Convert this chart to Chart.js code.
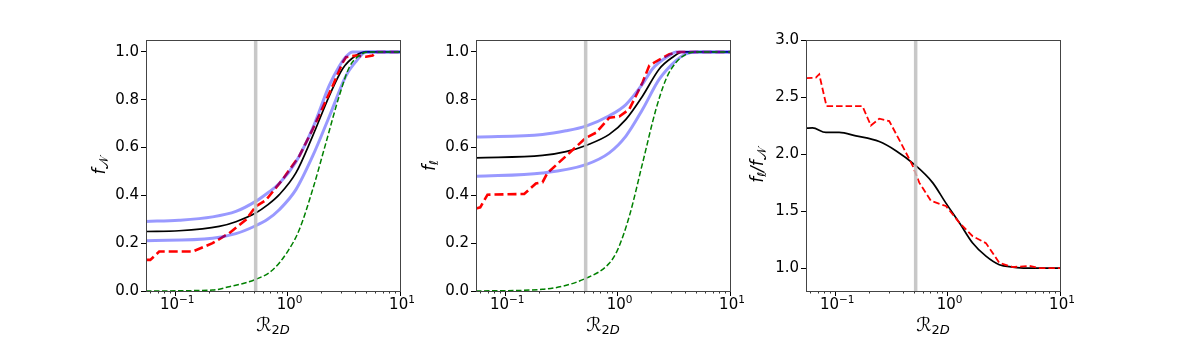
<!DOCTYPE html>
<html>
<head>
<meta charset="utf-8">
<script src="https://cdn.jsdelivr.net/npm/chart.js@4.4.1/dist/chart.umd.min.js"></script>
<style>
  body { margin: 0; background: #fff; width: 1177px; height: 343px; overflow: hidden; position: relative; }
  canvas { position: absolute; top: 0; }
</style>
</head>
<body>
<canvas id="chart1" width="340" height="343" style="left:76px"></canvas>
<canvas id="chart2" width="340" height="343" style="left:406px"></canvas>
<canvas id="chart3" width="340" height="343" style="left:736px"></canvas>
<script>
// x ticks (log scale) and the vertical marker
const xMajor = [0.1, 1, 10];
const xMajorExp = ['\u22121', '0', '1'];
const xMin = 0.055, xMax = 10;
const vlineX = 0.52;

// ---- panel 1 : f_N ----
const hi1_x = [0.055, 0.108, 0.215, 0.347, 0.52, 0.664, 0.843, 1.186, 1.67, 2.35, 2.88, 3.3, 3.79, 10];
const hi1_y = [0.291, 0.296, 0.31, 0.333, 0.375, 0.41, 0.45, 0.54, 0.68, 0.86, 0.94, 0.98, 1.0, 1.0];
const lo1_x = [0.055, 0.215, 0.347, 0.52, 0.664, 0.843, 1.186, 1.67, 2.35, 3.306, 4.058, 4.98, 10];
const lo1_y = [0.21, 0.221, 0.24, 0.273, 0.30, 0.34, 0.424, 0.564, 0.73, 0.90, 0.96, 1.0, 1.0];
const blk1_x = [0.055, 0.108, 0.246, 0.347, 0.52, 0.664, 0.843, 1.186, 1.67, 2.35, 3.088, 4.058, 4.98, 10];
const blk1_y = [0.249, 0.252, 0.27, 0.29, 0.326, 0.36, 0.403, 0.494, 0.648, 0.816, 0.93, 0.985, 1.0, 1.0];
const red1_x = [0.055, 0.06, 0.0721, 0.1427, 0.215, 0.3025, 0.4256, 0.5225, 0.6413, 0.9, 1.27, 1.67, 2.516, 3.088, 3.306, 4.058, 4.98, 5.71, 6.11, 10];
const red1_y = [0.13, 0.13, 0.165, 0.165, 0.20, 0.242, 0.298, 0.354, 0.38, 0.466, 0.564, 0.676, 0.858, 0.956, 0.978, 0.985, 0.98, 0.985, 1.0, 1.0];
const grn1_x = [0.055, 0.215, 0.3025, 0.5225, 0.7355, 1.0, 1.27, 1.67, 2.194, 2.884, 3.54, 4.345, 5.33, 10];
const grn1_y = [0.0, 0.004, 0.018, 0.049, 0.088, 0.165, 0.256, 0.424, 0.62, 0.817, 0.936, 0.985, 1.0, 1.0];

// ---- panel 2 : f_l ----
const hi2_x = [0.055, 0.215, 0.347, 0.5225, 0.843, 1.186, 1.67, 2.049, 2.884, 3.306, 10];
const hi2_y = [0.644, 0.655, 0.67, 0.69, 0.733, 0.78, 0.866, 0.93, 0.985, 1.0, 1.0];
const lo2_x = [0.055, 0.215, 0.5225, 0.843, 1.186, 1.67, 2.349, 3.306, 4.058, 4.98, 10];
const lo2_y = [0.48, 0.494, 0.529, 0.578, 0.648, 0.76, 0.886, 0.964, 0.992, 1.0, 1.0];
const blk2_x = [0.055, 0.215, 0.347, 0.5225, 0.843, 1.186, 1.67, 2.349, 3.088, 3.79, 10];
const blk2_y = [0.557, 0.567, 0.583, 0.609, 0.655, 0.718, 0.816, 0.929, 0.978, 1.0, 1.0];
const red2_x = [0.055, 0.06, 0.0696, 0.1476, 0.1875, 0.215, 0.238, 0.3467, 0.5225, 0.6413, 0.843, 1.035, 1.27, 1.67, 1.914, 2.194, 2.884, 3.54, 10];
const red2_y = [0.345, 0.35, 0.403, 0.406, 0.45, 0.455, 0.494, 0.564, 0.641, 0.662, 0.725, 0.73, 0.76, 0.873, 0.943, 0.96, 0.99, 1.0, 1.0];
const grn2_x = [0.055, 0.215, 0.5225, 0.843, 1.0, 1.27, 1.67, 2.194, 2.694, 3.306, 4.058, 4.98, 10];
const grn2_y = [0.0, 0.007, 0.053, 0.116, 0.172, 0.312, 0.536, 0.76, 0.886, 0.956, 0.99, 1.0, 1.0];

// ---- panel 3 : f_l / f_N ----
const blk3_x = [0.055, 0.0628, 0.0826, 0.1085, 0.1528, 0.2464, 0.3467, 0.505, 0.7355, 0.9665, 1.27, 1.67, 2.194, 2.884, 3.79, 4.98, 10];
const blk3_y = [2.227, 2.23, 2.19, 2.19, 2.16, 2.11, 2.03, 1.91, 1.75, 1.57, 1.40, 1.22, 1.105, 1.03, 1.01, 1.0, 1.0];
const red3_x = [0.055, 0.0673, 0.0721, 0.0837, 0.175, 0.2077, 0.2464, 0.3025, 0.3975, 0.4881, 0.5597, 0.7107, 0.9665, 1.27, 1.67, 2.194, 2.884, 3.79, 5.33, 6.55, 10];
const red3_y = [2.666, 2.67, 2.70, 2.42, 2.42, 2.25, 2.31, 2.29, 2.07, 1.90, 1.75, 1.59, 1.545, 1.40, 1.28, 1.22, 1.047, 1.01, 1.02, 1.0, 1.0];

const yTicks12 = [0, 0.2, 0.4, 0.6, 0.8, 1.0];
const yTicks3 = [1.0, 1.5, 2.0, 2.5, 3.0];

function pts(xs, ys) {
    return xs.map((x, i) => ({ x: x, y: ys[i] }));
}

const tickFont = { family: 'DejaVu Sans', size: 15 };

// frame, minor ticks, 10^n labels and math-style axis titles
const decorPlugin = {
    id: 'decor',
    afterDraw(chart, args, opts) {
        const ctx = chart.ctx;
        const a = chart.chartArea;
        const xs = chart.scales.x;
        ctx.save();
        ctx.strokeStyle = '#000';
        ctx.lineWidth = 0.8;
        ctx.beginPath();
        for (let d = 0.01; d < 10; d *= 10) {
            for (let m = 2; m <= 9; m++) {
                const v = d * m;
                if (v < xMin || v > xMax) continue;
                const px = Math.round(xs.getPixelForValue(v)) + 0.5;
                ctx.moveTo(px, a.bottom);
                ctx.lineTo(px, a.bottom + 2.5);
            }
        }
        ctx.stroke();
        ctx.strokeStyle = '#444';
        ctx.lineWidth = 1;
        ctx.strokeRect(Math.round(a.left) + 0.5, Math.round(a.top) + 0.5, Math.round(a.right - a.left), Math.round(a.bottom - a.top));

        ctx.fillStyle = '#000';
        ctx.textAlign = 'left';
        ctx.textBaseline = 'alphabetic';
        xMajor.forEach((v, i) => {
            drawParts(ctx, [
                { t: '10', font: '15px DejaVu Sans' },
                { t: xMajorExp[i], font: '10.5px DejaVu Sans', dy: -6 }
            ], xs.getPixelForValue(v) + 2, a.bottom + 18);
        });
        drawParts(ctx, opts.xTitle, (a.left + a.right) / 2, 331);
        ctx.translate(a.left - opts.yOffset, (a.top + a.bottom) / 2);
        ctx.rotate(-Math.PI / 2);
        drawParts(ctx, opts.yTitle, 0, 0);
        ctx.restore();
    }
};

function drawParts(ctx, parts, cx, cy) {
    let total = 0;
    parts.forEach(p => { ctx.font = p.font; p.w = ctx.measureText(p.t).width; total += p.w; });
    let x = cx - total / 2;
    parts.forEach(p => { ctx.font = p.font; ctx.fillText(p.t, x, cy + (p.dy || 0)); x += p.w; });
}

const xTitle = [
    { t: '\u211B', font: 'italic 19px DejaVu Sans' },
    { t: '2', font: '13px DejaVu Sans', dy: 3 },
    { t: 'D', font: 'italic 13px DejaVu Sans', dy: 3 }
];

function makeChart(id, datasets, yMin, yMax, yTicks, yTitle, yOffset) {
    return new Chart(document.getElementById(id), {
        type: 'line',
        data: { datasets: datasets },
        options: {
            responsive: false,
            animation: false,
            layout: { padding: { top: 40, right: 16, left: 0, bottom: 0 } },
            plugins: {
                legend: { display: false },
                tooltip: { enabled: false },
                decor: { xTitle: xTitle, yTitle: yTitle, yOffset: yOffset }
            },
            elements: { point: { radius: 0 } },
            scales: {
                x: {
                    type: 'logarithmic',
                    min: xMin,
                    max: xMax,
                    afterBuildTicks: s => { s.ticks = xMajor.map(v => ({ value: v })); },
                    afterFit: s => { s.height = 52; },
                    ticks: {
                        font: tickFont,
                        color: '#000',
                        padding: 2,
                        maxRotation: 0,
                        autoSkip: false,
                        callback: () => ''
                    },
                    grid: { drawOnChartArea: false, tickLength: 5, tickColor: '#000', tickWidth: 1 },
                    border: { display: false }
                },
                y: {
                    type: 'linear',
                    min: yMin,
                    max: yMax,
                    afterBuildTicks: s => { s.ticks = yTicks.map(v => ({ value: v })); },
                    afterFit: s => { s.width = 70; },
                    ticks: {
                        font: tickFont,
                        color: '#000',
                        padding: 2,
                        callback: v => v.toFixed(1)
                    },
                    grid: { drawOnChartArea: false, tickLength: 5, tickColor: '#000', tickWidth: 1 },
                    border: { display: false }
                }
            }
        },
        plugins: [decorPlugin]
    });
}

function vline(yMin, yMax) {
    return { data: pts([vlineX, vlineX], [yMin, yMax]), borderColor: 'rgba(190,190,190,0.85)', borderWidth: 3.5, tension: 0 };
}
function band(xs, ys) {
    return { data: pts(xs, ys), borderColor: 'rgba(0,0,255,0.4)', borderWidth: 3, cubicInterpolationMode: 'monotone' };
}
function black(xs, ys) {
    return { data: pts(xs, ys), borderColor: '#000', borderWidth: 1.7, cubicInterpolationMode: 'monotone' };
}
function red(xs, ys, w, dash) {
    return { data: pts(xs, ys), borderColor: '#ff0000', borderWidth: w, borderDash: dash, tension: 0 };
}
function green(xs, ys) {
    return { data: pts(xs, ys), borderColor: '#008000', borderWidth: 1.5, borderDash: [5.5, 2.5], cubicInterpolationMode: 'monotone' };
}

// first dataset is drawn on top
makeChart('chart1', [
    vline(0, 1.05),
    green(grn1_x, grn1_y),
    band(hi1_x, hi1_y),
    band(lo1_x, lo1_y),
    red(red1_x, red1_y, 2.6, [9, 4]),
    black(blk1_x, blk1_y)
], 0, 1.05, yTicks12, [
    { t: 'f', font: 'italic 17px DejaVu Sans' },
    { t: '\uD835\uDCA9', font: '13px DejaVu Sans', dy: 3 }
], 41);

makeChart('chart2', [
    vline(0, 1.05),
    green(grn2_x, grn2_y),
    band(hi2_x, hi2_y),
    band(lo2_x, lo2_y),
    red(red2_x, red2_y, 2.6, [9, 4]),
    black(blk2_x, blk2_y)
], 0, 1.05, yTicks12, [
    { t: 'f', font: 'italic 17px DejaVu Sans' },
    { t: '\u2113', font: 'italic 12px DejaVu Sans', dy: 3 }
], 41);

makeChart('chart3', [
    vline(0.8, 3.0),
    red(red3_x, red3_y, 1.8, [6.5, 3]),
    black(blk3_x, blk3_y)
], 0.8, 3.0, yTicks3, [
    { t: 'f', font: 'italic 17px DejaVu Sans' },
    { t: '\u2113', font: 'italic 12px DejaVu Sans', dy: 3 },
    { t: '/f', font: 'italic 17px DejaVu Sans' },
    { t: '\uD835\uDCA9', font: '13px DejaVu Sans', dy: 3 }
], 43);
</script>
</body>
</html>
